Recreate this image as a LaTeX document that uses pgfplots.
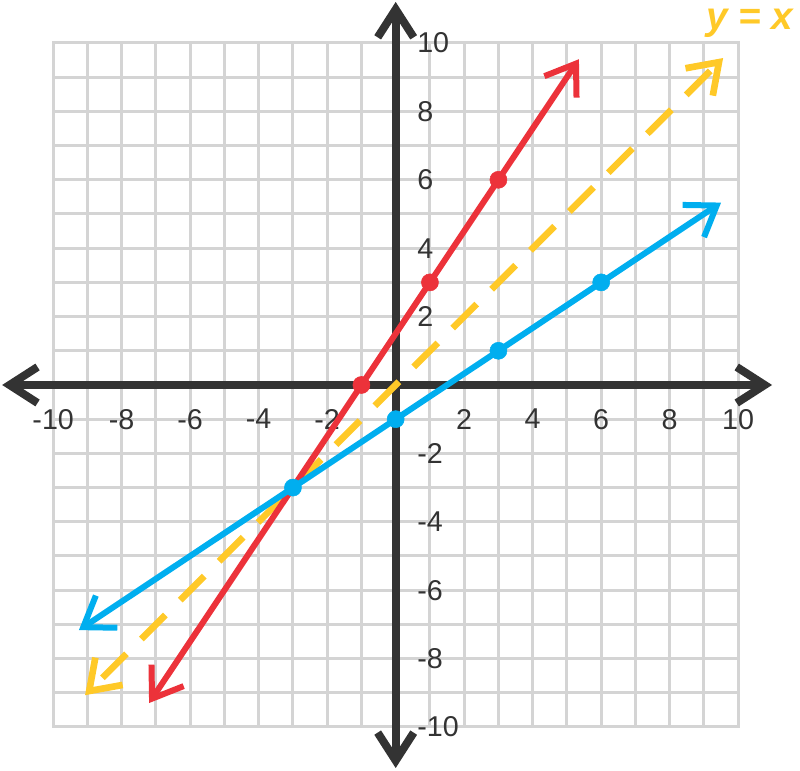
\documentclass[border=0pt]{standalone}
\usepackage{fontspec}
\setmainfont{Liberation Sans}
\usepackage{pgfplots}
\pgfplotsset{compat=1.18}
\usetikzlibrary{arrows.meta}
\definecolor{gridgray}{RGB}{212,212,212}
\definecolor{axisdark}{RGB}{51,51,51}
\definecolor{lred}{RGB}{236,50,58}
\definecolor{lblue}{RGB}{0,174,239}
\definecolor{lyellow}{RGB}{255,201,40}
\begin{document}
\begin{tikzpicture}
\begin{axis}[
    name=ax,
    set layers,
    width=600pt, height=578.25pt, scale only axis,
    xmin=-11.553, xmax=11.805, ymin=-11.287, ymax=11.257,
    axis lines=middle,
    axis line style={draw=none},
    xtick={-10,-8,-6,-4,-2,2,4,6,8,10},
    ytick={-10,-8,-6,-4,-2,2,4,6,8,10},
    major tick length=0pt,
    tick style={draw=none},
    /pgf/number format/assume math mode=true,
    ticklabel style={font=\fontsize{21.5}{26}\selectfont, text=axisdark, inner sep=0pt},
    xticklabel style={anchor=north, yshift=-18pt},
    yticklabel style={anchor=west, xshift=16pt},
    clip=false,
    >={Straight Barb[length=21pt,width=29pt]},
]
% grid, only over -10..10, kept behind the tick labels
\begin{pgfonlayer}{axis background}
\pgfplotsinvokeforeach{-10,...,10}{
    \draw[gridgray, line width=2.25pt, line cap=rect] (axis cs:#1,-10) -- (axis cs:#1,10);
    \draw[gridgray, line width=2.25pt, line cap=rect] (axis cs:-10,#1) -- (axis cs:10,#1);
}
\end{pgfonlayer}
% axes
\draw[axisdark, line width=6pt, <->, >={Straight Barb[length=21pt,width=27pt]}]
    (axis cs:-11.49,0) -- (axis cs:10.99,0);
\draw[axisdark, line width=6pt, <->, >={Straight Barb[length=21pt,width=27pt]}]
    (axis cs:0,-11.2) -- (axis cs:0,11.2);

% y = x
\addplot[lyellow, line width=5pt, <->, dash pattern=on 25.5pt off 15.75pt, dash phase=29.75pt]
    coordinates {(-9.07,-9.07) (9.56,9.56)};
% red line
\addplot[lred, line width=4.5pt, <->] coordinates {(-7.2,-9.3) (5.35,9.525)};
% blue line
\addplot[lblue, line width=4.5pt, <->] coordinates {(-9.25,-7.167) (9.5,5.333)};

\addplot[only marks, mark=*, mark size=6.4pt, lred] coordinates {(-1,0) (1,3) (3,6)};
\addplot[only marks, mark=*, mark size=6.4pt, lblue] coordinates {(-3,-3) (0,-1) (3,1) (6,3)};

\node[text=lyellow, font=\fontsize{29}{34}\selectfont\bfseries\itshape]
    at (axis cs:10.34,10.57) {y = x};
\end{axis}
\pgfresetboundingbox
\path[use as bounding box] (ax.south west) rectangle (ax.north east);
\end{tikzpicture}
\end{document}
